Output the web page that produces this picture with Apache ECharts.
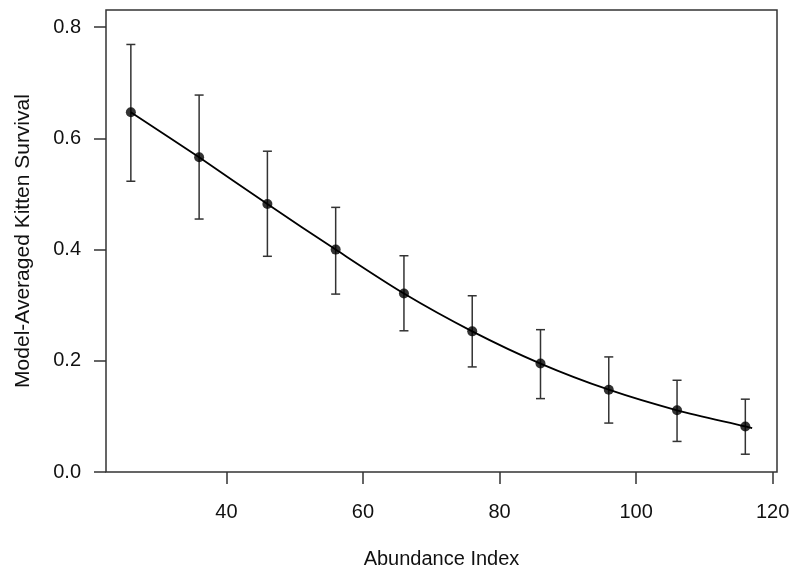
<!DOCTYPE html>
<html>
<head>
<meta charset="utf-8">
<script src="https://cdn.jsdelivr.net/npm/echarts@6/dist/echarts.min.js"></script>
<style>
html,body{margin:0;padding:0;background:#fff;}
#chart{width:800px;height:578px;}
</style>
</head>
<body>
<div id="chart"></div>
<script>
// Data
const abundance = [26, 36, 46, 56, 66, 76, 86, 96, 106, 116];
const survival  = [0.647, 0.566, 0.482, 0.400, 0.321, 0.253, 0.195, 0.148, 0.111, 0.082];
const lower     = [0.523, 0.455, 0.388, 0.320, 0.254, 0.189, 0.132, 0.088, 0.055, 0.032];
const upper     = [0.769, 0.678, 0.577, 0.476, 0.389, 0.317, 0.256, 0.207, 0.165, 0.131];
// fitted curve (same points, extended slightly past the last point)
const curveX = [26, 36, 46, 56, 66, 76, 86, 96, 106, 116, 117];
const curveY = [0.647, 0.566, 0.482, 0.400, 0.321, 0.253, 0.195, 0.148, 0.111, 0.082, 0.079];
const xTicks = [40, 60, 80, 100, 120];
const yTicks = [0.0, 0.2, 0.4, 0.6, 0.8];

const FONT = 'Liberation Sans, Arial, sans-serif';
const AX = '#333';

const chart = echarts.init(document.getElementById('chart'), null, {renderer: 'canvas'});
chart.setOption({
  animation: false,
  backgroundColor: '#fff',
  grid: {
    left: 106, right: 23, top: 10, bottom: 106,
    show: true, borderColor: AX, borderWidth: 1.5, backgroundColor: 'transparent'
  },
  xAxis: {
    type: 'value',
    min: 22.36, max: 120.64,
    name: 'Abundance Index',
    nameLocation: 'middle',
    nameGap: 77,
    nameTextStyle: {fontFamily: FONT, fontSize: 20, color: '#111'},
    axisLine: {show: false},
    splitLine: {show: false},
    axisTick: {show: true, customValues: xTicks, length: 12, inside: false, lineStyle: {color: AX, width: 1.5}},
    axisLabel: {customValues: xTicks, fontFamily: FONT, fontSize: 20, color: '#111', margin: 30}
  },
  yAxis: {
    type: 'value',
    min: 0, max: 0.831,
    name: 'Model-Averaged Kitten Survival',
    nameLocation: 'middle',
    nameGap: 72,
    nameRotate: 90,
    nameTextStyle: {fontFamily: FONT, fontSize: 21, color: '#111'},
    axisLine: {show: false},
    splitLine: {show: false},
    axisTick: {show: true, customValues: yTicks, length: 12, inside: false, lineStyle: {color: AX, width: 1.5}},
    axisLabel: {customValues: yTicks, fontFamily: FONT, fontSize: 20, color: '#111', margin: 25,
      formatter: v => Number(v).toFixed(1)}
  },
  series: [
    {
      type: 'custom',
      data: abundance.map((x, i) => [x, lower[i], upper[i]]),
      renderItem: function (params, api) {
        const x = api.value(0);
        const lo = api.coord([x, api.value(1)]);
        const hi = api.coord([x, api.value(2)]);
        const w = 4.5;
        const st = {stroke: AX, lineWidth: 1.5};
        return {
          type: 'group',
          children: [
            {type: 'line', shape: {x1: hi[0], y1: hi[1], x2: lo[0], y2: lo[1]}, style: st},
            {type: 'line', shape: {x1: hi[0] - w, y1: hi[1], x2: hi[0] + w, y2: hi[1]}, style: st},
            {type: 'line', shape: {x1: lo[0] - w, y1: lo[1], x2: lo[0] + w, y2: lo[1]}, style: st}
          ]
        };
      },
      z: 1
    },
    {
      type: 'line',
      data: curveX.map((x, i) => [x, curveY[i]]),
      smooth: 0.3,
      symbol: 'none',
      lineStyle: {color: '#000', width: 1.8},
      z: 2
    },
    {
      type: 'scatter',
      data: abundance.map((x, i) => [x, survival[i]]),
      symbol: 'circle',
      symbolSize: 10,
      itemStyle: {color: '#000'},
      z: 3
    }
  ]
});
</script>
</body>
</html>
